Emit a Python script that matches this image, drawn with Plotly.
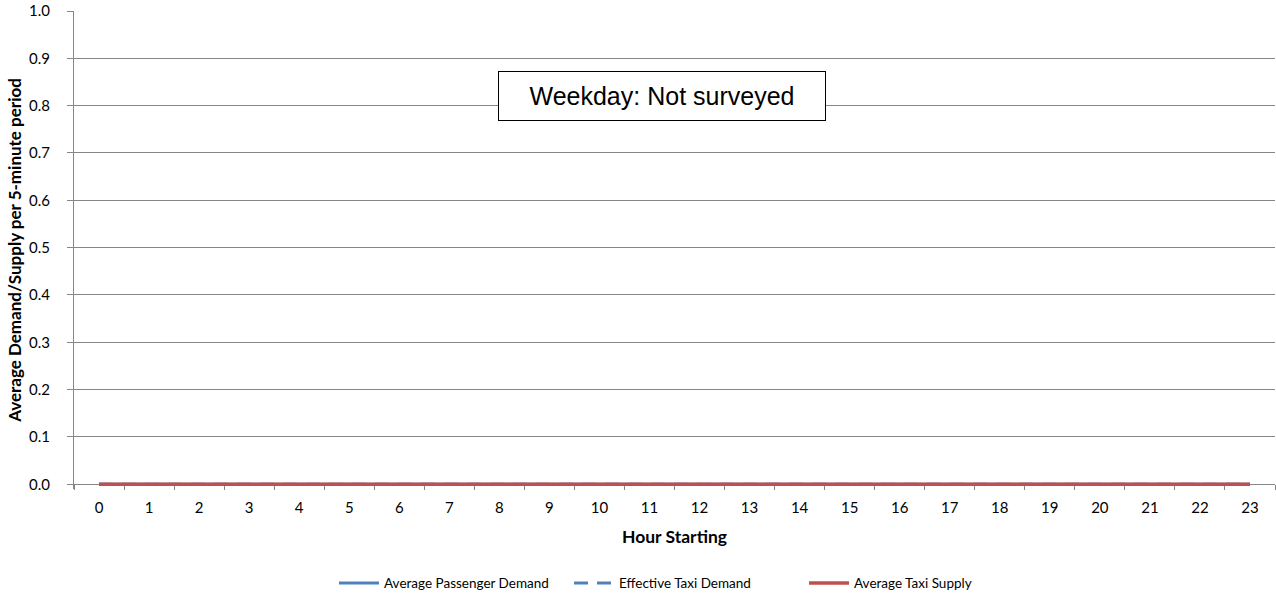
import plotly.graph_objects as go

hours = [str(h) for h in range(24)]
passenger_demand = [0.0] * 24
effective_demand = [0.0] * 24
taxi_supply = [0.0] * 24

y_ticks = [round(i * 0.1, 1) for i in range(11)]

GRID = "#868686"
Y_MIN = -0.01  # a little room under zero so the flat lines are not clipped

fig = go.Figure()
fig.add_trace(go.Scatter(x=hours, y=passenger_demand, mode="lines",
                         name="Average Passenger Demand",
                         line=dict(color="#4F81BD", width=3)))
fig.add_trace(go.Scatter(x=hours, y=effective_demand, mode="lines",
                         name="Effective Taxi Demand",
                         line=dict(color="#4F81BD", width=3, dash="14px,9px")))
fig.add_trace(go.Scatter(x=hours, y=taxi_supply, mode="lines",
                         name="Average Taxi Supply",
                         line=dict(color="#C0504D", width=3.5)))

fig.add_annotation(x=0.4896, y=0.822, xref="paper", yref="paper",
                   xanchor="center", yanchor="middle",
                   text="Weekday: Not surveyed", showarrow=False,
                   font=dict(family="Liberation Sans, Arial", size=25, color="black"),
                   bordercolor="black", borderwidth=1, borderpad=6,
                   bgcolor="white", width=314, height=36)

fig.update_layout(
    width=1276, height=598,
    margin=dict(l=74, r=1, t=11, b=109, autoexpand=False),
    paper_bgcolor="white", plot_bgcolor="white",
    font=dict(family="Lato, Open Sans, sans-serif", size=15, color="black"),
    showlegend=True,
    legend=dict(orientation="h", x=0.51, xanchor="center", y=-0.197, yanchor="middle",
                font=dict(size=13.5), itemwidth=40, entrywidth=180),
)
# the category axis sits on y = 0 rather than on the plot floor
fig.update_xaxes(type="category", range=[-0.5, 23.5], tickson="boundaries",
                 anchor="free", position=-Y_MIN / (1 - Y_MIN), layer="below traces",
                 ticks="outside", ticklen=5, tickcolor=GRID, ticklabelstandoff=10,
                 showline=True, linecolor=GRID, linewidth=1,
                 showgrid=False, zeroline=False,
                 title=dict(text="<b>Hour Starting</b>", font=dict(size=17.5), standoff=15))
fig.update_yaxes(range=[Y_MIN, 1], tickvals=y_ticks, tickformat=".1f", layer="below traces",
                 ticks="outside", ticklen=6, tickcolor=GRID, ticklabelstandoff=14,
                 showline=True, linecolor=GRID, linewidth=1,
                 showgrid=True, gridcolor=GRID, gridwidth=1, zeroline=False,
                 title=dict(text="<b>Average Demand/Supply per 5-minute period</b>",
                            font=dict(size=17), standoff=3))

fig.write_html("out.html")
